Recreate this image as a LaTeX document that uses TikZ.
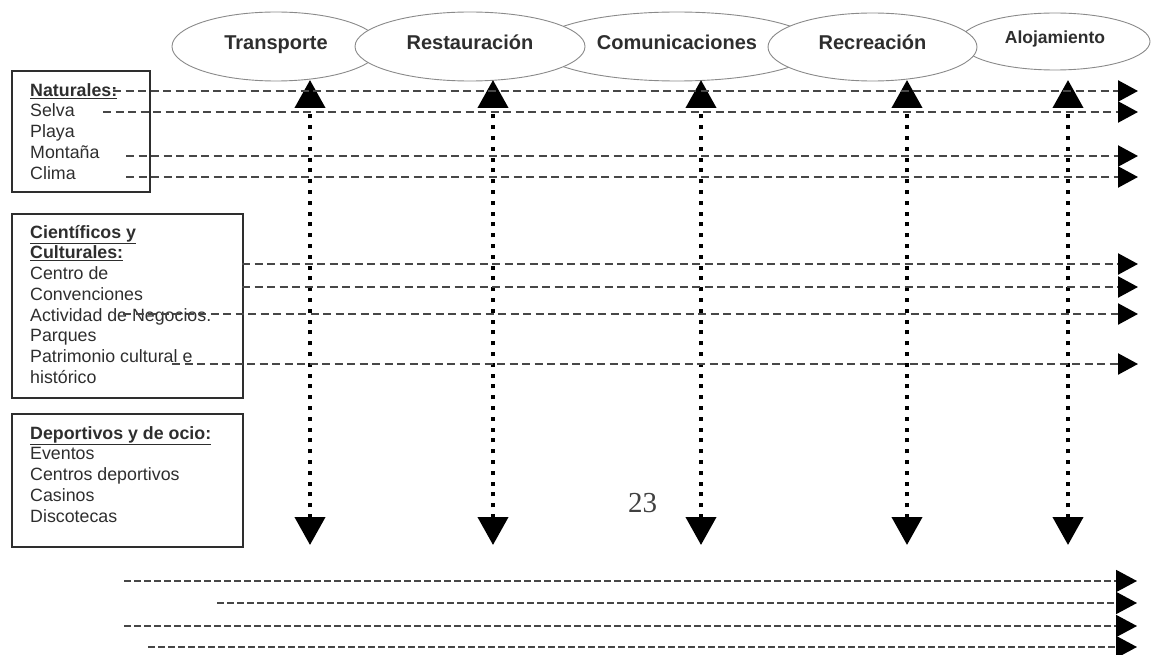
\documentclass[tikz,border=0pt]{standalone}
\usepackage{fontspec}
\setmainfont{Liberation Sans}
\newfontfamily\serifnum{Liberation Serif}
\usetikzlibrary{shapes.geometric,arrows.meta}
\definecolor{txt}{HTML}{2E2E2E}
\definecolor{dashc}{HTML}{474747}
\definecolor{ellc}{HTML}{8A8A8A}
\tikzset{
  ell/.style={ellipse, draw=ellc, line width=0.9pt, fill=white, inner sep=0pt,
     font=\bfseries\fontsize{20}{24}\selectfont, text=txt, text height=10pt, text depth=4.6pt},
  catbox/.style={draw=txt, line width=1.8pt, rectangle, anchor=north west, inner sep=0pt},
  cattext/.style={anchor=north west, inner sep=0pt, align=left, text=txt,
     font=\fontsize{17.8}{20.75}\selectfont},
  vlink/.style={line width=4.2pt, dash pattern=on 4pt off 6.8pt,
     {Triangle[length=28pt,width=30pt]}-{Triangle[length=28pt,width=30pt]}},
  hlink/.style={dashc, line width=2.3pt, dash pattern=on 8pt off 4.5pt,
     -{Triangle[length=20pt,width=21pt,black]}},
  hlinkthin/.style={dashc, line width=1.9pt, dash pattern=on 6.5pt off 3.5pt,
     -{Triangle[length=21pt,width=22pt,black]}},
}
\begin{document}
\begin{tikzpicture}[x=1pt,y=-1pt]
\useasboundingbox (0,0) rectangle (1153,655);
% ellipses (drawing order gives the overlaps)
\node[ell, minimum width=208pt, minimum height=69pt] (transp) at (276,46.5) {Transporte};
\node[ell, minimum width=280pt, minimum height=69pt] (comun) at (677,46.5) {Comunicaciones};
\node[ell, minimum width=190pt, minimum height=57pt, font=\bfseries\fontsize{17.5}{21}\selectfont, text height=9pt, text depth=4pt] (aloj) at (1055,41.5) {Alojamiento};
\node[ell, minimum width=230pt, minimum height=69pt] (resta) at (470,46.5) {Restauración};
\node[ell, minimum width=209pt, minimum height=68pt] (recre) at (872.5,47) {Recreación};

% boxes
\node[catbox, minimum width=138pt, minimum height=121pt] (nat) at (11,70) {};
\node[catbox, minimum width=231pt, minimum height=184pt] (cie) at (11,213) {};
\node[catbox, minimum width=231pt, minimum height=133pt] (dep) at (11,413) {};

\node[cattext] (natt) at (30,81.5) {\strut\underline{\textbf{Naturales:}}\\Selva\\Playa\\Montaña\\Clima};
\node[cattext] (ciet) at (30,223.5) {\strut\underline{\textbf{Científicos y}}\\\underline{\textbf{Culturales:}}\\Centro de\\Convenciones\\Actividad de Negocios.\\Parques\\Patrimonio cultural e\\histórico};
\node[cattext] (dept) at (30,424.5) {\strut\underline{\textbf{Deportivos y de ocio:}}\\Eventos\\Centros deportivos\\Casinos\\Discotecas};

% page number
\node[font=\serifnum\fontsize{29}{32}\selectfont, text=black!75, anchor=base, inner sep=0pt] (pg) at (642.5,512) {23};

% vertical links
\foreach \n/\x in {1/310, 2/493, 3/701, 4/907, 5/1068}{
  \coordinate (up\n) at (\x,80);
  \coordinate (dn\n) at (\x,545);
}
\foreach \n in {1,...,5}{
  \draw[vlink] (dn\n) -- (up\n);
}

% horizontal dashed links
\foreach \n/\xs/\y in {1/113/91, 2/103/112, 3/126/156, 4/126/177, 5/242/264, 6/242/287, 7/123/314, 8/172/364}{
  \coordinate (hs\n) at (\xs,\y);
  \coordinate (he\n) at (1138,\y);
  \draw[hlink] (hs\n) -- (he\n);
}
\foreach \n/\xs/\y in {9/124/581, 10/217/603, 11/124/626, 12/148/647}{
  \coordinate (hs\n) at (\xs,\y);
  \coordinate (he\n) at (1137,\y);
  \draw[hlinkthin] (hs\n) -- (he\n);
}
\end{tikzpicture}
\end{document}
